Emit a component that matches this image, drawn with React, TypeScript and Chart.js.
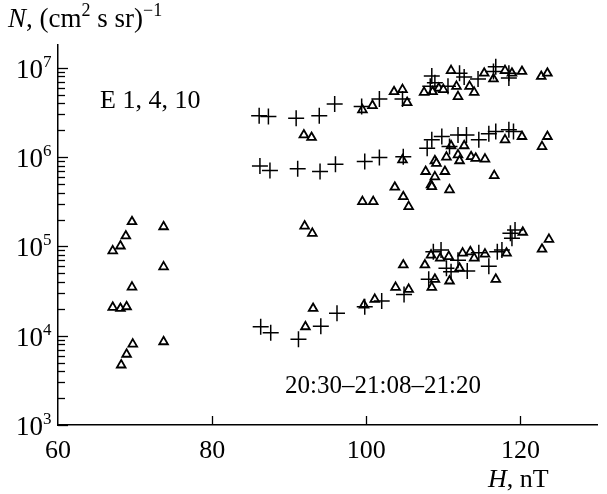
import React, { useEffect, useRef } from 'react';
import { Chart, registerables } from 'chart.js';

Chart.register(...registerables);

const X_MIN = 60;
const X_MAX = 130;
const Y_MIN = 1e3;
const Y_MAX = 1.8e7;
const X_TICKS = [60, 80, 100, 120];
const Y_EXPONENTS = [3, 4, 5, 6, 7];

// "+" markers
const PLUS_H = [
  86.1, 87.3, 90.9, 93.9, 95.9, 99.4, 101.7, 104.7, 108.5, 108.9, 108.3, 110.6, 112.1, 112.7, 114.5, 116.5, 116.8, 118.5, 118.5,
  86.2, 87.5, 91.1, 94.0, 96.0, 99.8, 101.7, 104.8, 107.9, 108.5, 109.8, 111.9, 113.0, 114.6, 110.8, 115.9, 116.8, 118.5, 119.1,
  86.3, 87.6, 91.2, 94.1, 96.2, 99.8, 102.0, 104.9, 108.1, 108.7, 109.7, 110.4, 111.0, 111.9, 113.1, 114.6, 115.9, 117.0, 117.6, 118.7, 118.9, 119.3,
];
const PLUS_N = [
  2.9e6, 2.85e6, 2.73e6, 2.9e6, 3.92e6, 3.68e6, 4.46e6, 4.46e6, 8.1e6, 6.8e6, 6.2e6, 6.2e6, 8.7e6, 7.9e6, 7.5e6, 9.1e6, 1.03e7, 7.7e6, 8.7e6,
  7.96e5, 7.06e5, 7.4e5, 6.9e5, 8.3e5, 8.9e5, 9.9e5, 1.01e6, 1.26e6, 1.56e6, 1.7e6, 1.77e6, 1.77e6, 1.56e6, 1.31e6, 1.82e6, 1.93e6, 2.02e6, 1.93e6,
  1.26e4, 1.08e4, 9.1e3, 1.28e4, 1.78e4, 2.11e4, 2.44e4, 2.9e4, 4.28e4, 8.7e4, 9.1e4, 5.7e4, 5.2e4, 7.0e4, 5.3e4, 8.5e4, 6.0e4, 8.7e4, 9.1e4, 1.4e5, 1.23e5, 1.53e5,
];

// triangle markers
const TRI_H = [
  69.6, 73.7, 68.8, 68.1, 67.1, 73.7, 69.6, 67.1, 68.1, 68.9, 69.7, 73.7, 68.9, 68.2,
  91.9, 92.9, 99.5, 100.8, 103.6, 104.7, 105.3, 107.5, 111.0, 109.4, 110.0, 111.7, 111.9, 113.4, 114.0, 115.3, 116.5, 118.0, 118.9, 120.2, 122.7, 123.5, 108.6,
  99.5, 100.9, 103.7, 104.8, 105.5, 104.7, 107.7, 108.4, 108.9, 109.1, 110.4, 111.0, 112.7, 111.9, 112.1, 113.6, 114.2, 115.4, 108.9, 110.2, 108.5, 110.8, 116.6, 118.0, 120.2, 123.5, 122.8,
  92.1, 93.1, 99.7, 101.1, 103.8, 105.5, 104.8, 92.0, 93.0, 107.6, 108.5, 108.9, 108.4, 109.6, 110.7, 112.5, 113.5, 114.0, 115.4, 110.8, 116.8, 118.2, 120.3, 123.7, 122.8, 112.1,
];
const TRI_N = [
  1.89e5, 1.66e5, 1.31e5, 1.01e5, 8.9e4, 5.9e4, 3.5e4, 2.08e4, 2.02e4, 2.11e4, 8.05e3, 8.55e3, 6.2e3, 4.7e3,
  1.77e6, 1.66e6, 3.38e6, 3.78e6, 5.4e6, 5.7e6, 4.08e6, 5.3e6, 9.3e6, 5.9e6, 5.7e6, 6.2e6, 4.76e6, 6.2e6, 5.3e6, 8.7e6, 7.5e6, 9.3e6, 8.7e6, 9.1e6, 8.0e6, 8.7e6, 5.4e6,
  3.17e5, 3.17e5, 4.6e5, 3.6e5, 2.79e5, 9.3e5, 6.9e5, 4.88e5, 9.1e5, 8.5e5, 1.0e6, 1.34e6, 1.34e6, 1.06e6, 9.1e5, 1.01e6, 9.7e5, 9.5e5, 6.0e5, 6.9e5, 4.67e5, 4.29e5, 6.2e5, 1.56e6, 1.7e6, 1.7e6, 1.31e6,
  1.26e4, 2.02e4, 2.2e4, 2.55e4, 3.48e4, 3.3e4, 6.2e4, 1.69e5, 1.4e5, 6.2e4, 3.48e4, 4.28e4, 8.0e4, 7.4e4, 7.7e4, 8.4e4, 8.7e4, 7.4e4, 8.2e4, 4.1e4, 4.28e4, 8.4e4, 1.44e5, 1.2e5, 9.3e4, 5.7e4,
];

const Y_TITLE = [
  { t: 'N', italic: true },
  { t: ', (cm' },
  { t: '2', sup: true },
  { t: ' s sr)' },
  { t: '\u22121', sup: true },
];
const X_TITLE = [{ t: 'H', italic: true }, { t: ', nT' }];
const LABEL_CHANNELS = 'E 1, 4, 10';
const LABEL_TIME = '20:30\u201321:08\u201321:20';

const FONT = '"Liberation Serif", "Times New Roman", serif';

type Run = { t: string; italic?: boolean; sup?: boolean };

function drawRuns(ctx: CanvasRenderingContext2D, runs: Run[], x: number, y: number, size: number) {
  let cx = x;
  for (const r of runs) {
    const s = r.sup ? Math.round(size * 0.68) : size;
    ctx.font = `${r.italic ? 'italic ' : ''}${s}px ${FONT}`;
    const dy = r.sup ? -size * 0.4 : 0;
    ctx.fillText(r.t, cx, y + dy);
    cx += ctx.measureText(r.t).width;
  }
}

export default function App() {
  const ref = useRef<HTMLCanvasElement>(null);

  useEffect(() => {
    const canvas = ref.current;
    if (!canvas) return;

    const decor = {
      id: 'decor',
      afterDraw(chart: any) {
        const { ctx, chartArea } = chart;
        const xs = chart.scales.x;
        const ys = chart.scales.y;
        ctx.save();
        ctx.strokeStyle = '#000';
        ctx.lineWidth = 1.3;
        for (const e of Y_EXPONENTS) {
          for (let m = 1; m <= 9; m++) {
            const v = m * Math.pow(10, e);
            if (v > ys.max || v < ys.min) continue;
            const py = Math.round(ys.getPixelForValue(v)) + 0.5;
            const len = m === 1 ? 10 : 7;
            ctx.beginPath();
            ctx.moveTo(chartArea.left, py);
            ctx.lineTo(chartArea.left + len, py);
            ctx.stroke();
          }
        }
        for (const v of X_TICKS) {
          if (v === X_MIN) continue;
          const px = Math.round(xs.getPixelForValue(v)) + 0.5;
          ctx.beginPath();
          ctx.moveTo(px, chartArea.bottom);
          ctx.lineTo(px, chartArea.bottom - 9);
          ctx.stroke();
        }
        ctx.fillStyle = '#000';
        ctx.textBaseline = 'alphabetic';
        for (const e of Y_EXPONENTS) {
          const py = ys.getPixelForValue(Math.pow(10, e));
          ctx.font = `27px ${FONT}`;
          ctx.textAlign = 'right';
          ctx.fillText('10', 43, py + 10);
          ctx.font = `17px ${FONT}`;
          ctx.textAlign = 'left';
          ctx.fillText(String(e), 43, py - 1);
        }
        ctx.textAlign = 'left';
        drawRuns(ctx, Y_TITLE, 8, 27, 27);
        drawRuns(ctx, X_TITLE, 488, 487, 26);
        ctx.font = `26px ${FONT}`;
        ctx.fillText(LABEL_CHANNELS, 100, 108);
        ctx.font = `25px ${FONT}`;
        ctx.textAlign = 'center';
        ctx.fillText(LABEL_TIME, 383, 393);
        ctx.restore();
      },
    };

    const chart = new Chart(canvas, {
      type: 'scatter',
      data: {
        datasets: [
          {
            label: 'plus',
            data: PLUS_H.map((h, i) => ({ x: h, y: PLUS_N[i] })),
            pointStyle: 'cross',
            pointRadius: 8,
            borderColor: '#000',
            backgroundColor: '#000',
            borderWidth: 1.5,
          },
          {
            label: 'triangle',
            data: TRI_H.map((h, i) => ({ x: h, y: TRI_N[i] })),
            pointStyle: 'triangle',
            pointRadius: 5,
            borderColor: '#000',
            backgroundColor: '#fff',
            borderWidth: 1.8,
          },
        ],
      },
      options: {
        animation: false,
        responsive: true,
        maintainAspectRatio: false,
        events: [],
        layout: { padding: { top: 45, right: 0, left: 0, bottom: 0 } },
        plugins: { legend: { display: false }, tooltip: { enabled: false } },
        scales: {
          x: {
            type: 'linear',
            min: X_MIN,
            max: X_MAX,
            grid: { display: false, drawTicks: false },
            border: { display: true, color: '#000', width: 1.5 },
            ticks: {
              font: { family: FONT, size: 26 },
              color: '#000',
              padding: 11,
              maxRotation: 0,
              autoSkip: false,
            },
            afterBuildTicks: (s: any) => {
              s.ticks = X_TICKS.map((v) => ({ value: v }));
            },
            afterFit: (s: any) => {
              s.height = 69;
            },
          },
          y: {
            type: 'logarithmic',
            min: Y_MIN,
            max: Y_MAX,
            grid: { display: false, drawTicks: false },
            border: { display: true, color: '#000', width: 1.5 },
            ticks: { display: false },
            afterFit: (s: any) => {
              s.width = 58;
            },
          },
        },
      },
      plugins: [decor],
    });

    return () => chart.destroy();
  }, []);

  return (
    <div style={{ position: 'absolute', left: 0, top: 0, width: 607, height: 494, background: '#fff' }}>
      <canvas ref={ref} />
    </div>
  );
}
